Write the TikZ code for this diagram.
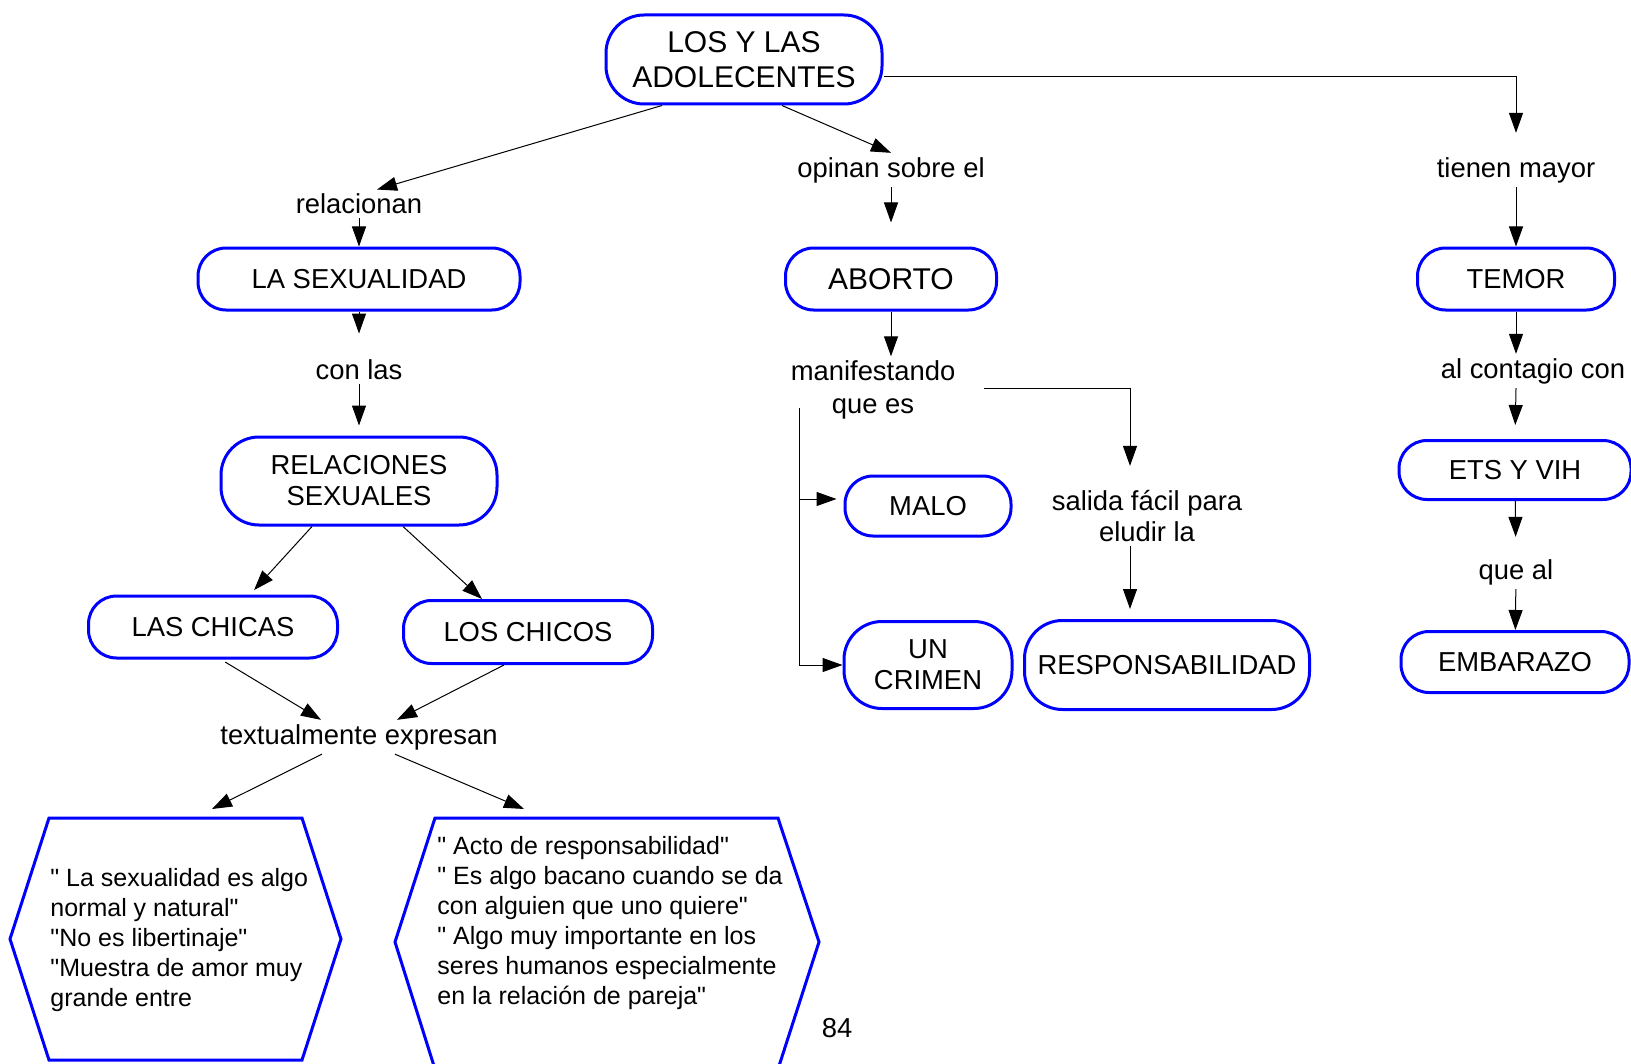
\documentclass[tikz,border=0pt]{standalone}
\usepackage{fontspec}
\setmainfont{Liberation Sans}[Ligatures=TeXOff]
\usepackage{tikz}
\usetikzlibrary{arrows.meta}
\usetikzlibrary{positioning}

\newcommand\fsnode{\fontsize{13.7}{15.5}\selectfont}
\newcommand\fsbig{\fontsize{15}{17.5}\selectfont}
\newcommand\fsquote{\fontsize{12.5}{15}\selectfont}

\definecolor{mapblue}{RGB}{0,0,255}

\tikzset{concept/.style = {draw=mapblue, line width=1.5pt, rounded corners=14pt,
                           align=center, inner sep=0pt, font=\fsnode},
         tallconcept/.style = {concept, rounded corners=19pt},
         linkword/.style = {align=center, inner sep=2pt, font=\fsnode},
         arr/.style = {-{Triangle[length=10pt,width=7pt]}, line width=0.5pt},
         hexa/.style = {draw=mapblue, line width=1.5pt}}

\begin{document}
\begin{tikzpicture}[x=0.5pt, y=-0.5pt]
    \useasboundingbox (0, 0) rectangle (1631, 1064);

    % concepts
    \node (adol) at (744, 59.5) [tallconcept, font=\fsbig, minimum width=138pt, minimum height=44.5pt] {LOS Y LAS\\ADOLECENTES};
    \node (sexualidad) at (359, 279) [concept, minimum width=161pt, minimum height=31pt] {LA SEXUALIDAD};
    \node (relaciones) at (359, 481) [tallconcept, minimum width=138pt, minimum height=44pt] {RELACIONES\\SEXUALES};
    \node (chicas) at (213, 627) [concept, minimum width=124.5pt, minimum height=31pt] {LAS CHICAS};
    \node (chicos) at (528, 632) [concept, minimum width=124.5pt, minimum height=31.5pt] {LOS CHICOS};
    \node (aborto) at (891, 279) [concept, font=\fsbig, minimum width=105.5pt, minimum height=31pt] {ABORTO};
    \node (malo) at (928, 506) [concept, minimum width=83pt, minimum height=30pt] {MALO};
    \node (crimen) at (928, 665) [tallconcept, minimum width=84pt, minimum height=43.5pt] {UN\\CRIMEN};
    \node (resp) at (1167, 665) [tallconcept, minimum width=142.5pt, minimum height=44.5pt] {RESPONSABILIDAD};
    \node (temor) at (1516, 279) [concept, minimum width=98.5pt, minimum height=31pt] {TEMOR};
    \node (ets) at (1515, 470) [concept, minimum width=116pt, minimum height=29.5pt] {ETS Y VIH};
    \node (embarazo) at (1515, 662) [concept, minimum width=114pt, minimum height=30.5pt] {EMBARAZO};

    % linking words
    \node (relacionan) at (359, 204) [linkword] {relacionan};
    \node (conlas) at (359, 370) [linkword] {con las};
    \node (textual) at (359, 737) [linkword] {textualmente expresan};
    \node (opinan) at (891, 170) [linkword] {opinan sobre el};
    \node (manif) at (873, 390) [linkword, font=\fontsize{13.7}{16.5}\selectfont] {manifestando\\que es};
    \node (salida) at (1147, 516) [linkword] {salida fácil para\\eludir la};
    \node (tienen) at (1516, 170) [linkword] {tienen mayor};
    \node (contagio) at (1533, 371) [linkword] {al contagio con};
    \node (queal) at (1516, 572) [linkword] {que al};

    % quotes
    \draw [hexa] (49, 818) -- (302, 818) -- (341, 939) -- (302, 1060) -- (49, 1060) -- (10, 939) -- cycle;
    \draw [hexa] (435, 818) -- (778, 818) -- (819, 942) -- (779, 1066) -- (434, 1066) -- (395, 942) -- cycle;
    \node (qleft) at (50, 940) [anchor=west, align=left, inner sep=0pt, font=\fsquote]
        {" La sexualidad es algo\\normal y natural"\\"No es libertinaje"\\"Muestra de amor muy\\grande entre};
    \node (qright) at (437, 923) [anchor=west, align=left, inner sep=0pt, font=\fsquote]
        {" Acto de responsabilidad"\\" Es algo bacano cuando se da\\con alguien que uno quiere"\\" Algo muy importante en los\\seres humanos especialmente\\en la relación de pareja"};
    \coordinate (lhex) at (212, 809);
    \coordinate (rhex) at (524, 809);
    \coordinate (brk) at (799, 408);

    \node (pagenum) at (837, 1028) [font=\fsnode] {84};

    % left branch
    \draw [arr] ([xshift=-41pt]adol.south) -- ([xshift=9pt]relacionan.north);
    \draw [arr] (relacionan) -- (sexualidad);
    \draw [arr, shorten >=11pt] (sexualidad) -- (conlas);
    \draw [arr, shorten >=5pt] (conlas) -- (relaciones);
    \draw [arr, shorten >=3pt] ([xshift=-23.5pt]relaciones.south) -- ([xshift=18.5pt]chicas.north);
    \draw [arr] ([xshift=22pt]relaciones.south) -- ([xshift=-23pt]chicos.north);
    \draw [arr, shorten <=2.5pt] ([xshift=4pt]chicas.south) -- ([xshift=-19pt]textual.north);
    \draw [arr] ([xshift=-12pt]chicos.south) -- ([xshift=19pt]textual.north);
    \draw [arr] ([xshift=-18.5pt]textual.south) -- (lhex);
    \draw [arr] ([xshift=18pt]textual.south) -- (rhex);

    % middle branch
    \draw [arr] ([xshift=19pt]adol.south) -- (opinan.north);
    \draw [arr, shorten >=12pt] (opinan) -- (aborto);
    \draw [arr] (aborto) -- ([xshift=9pt]manif.north);
    \draw [arr, shorten <=12pt, shorten >=10pt] ([yshift=1pt]manif.east) -| ([xshift=-8.5pt]salida.north);
    \draw [arr, shorten >=5pt] ([xshift=-8.5pt]salida.south) -- ([xshift=-18.5pt]resp.north);
    \draw [arr, shorten >=3.5pt] (brk) |- ([yshift=3.5pt]malo.west);
    \draw [arr] (brk) |- (crimen.west);

    % right branch
    \draw [arr, shorten >=10pt] ([yshift=-8.5pt]adol.east) -| (tienen.north);
    \draw [arr] (tienen) -- (temor);
    \draw [arr] (temor) -- ([xshift=-8.5pt]contagio.north);
    \draw [arr, shorten >=7pt] ([xshift=-8.5pt]contagio.south) -- (ets.north);
    \draw [arr, shorten >=9pt] (ets) -- (queal);
    \draw [arr] (queal) -- (embarazo);
\end{tikzpicture}
\end{document}
